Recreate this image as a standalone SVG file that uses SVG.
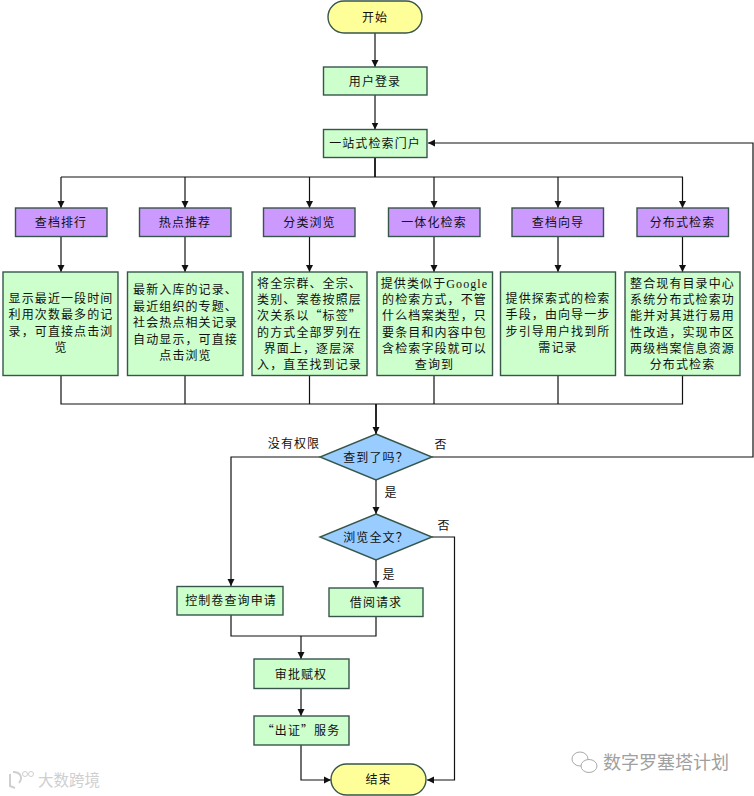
<svg xmlns="http://www.w3.org/2000/svg" width="754" height="796" viewBox="0 0 754 796">
<style>
text{font-family:"Noto Sans CJK SC","Liberation Sans",sans-serif;font-size:12px;letter-spacing:1.1px;fill:#111;text-anchor:middle}
.n{stroke:#37564a;stroke-width:1.4}
.g{fill:#CCFFCC}.p{fill:#CC99FF}.y{fill:#FFFF99}.b{fill:#99CCFF}
.c path{fill:none;stroke:#111;stroke-width:1.2}
text.w{fill:#a0a0a0;font-size:18px;letter-spacing:0}
text.w2{fill:#cfcfcf;font-size:15.5px;letter-spacing:0}
.s{font-family:"Liberation Serif",serif}
</style>
<defs>
<marker id="a" markerUnits="userSpaceOnUse" markerWidth="8" markerHeight="8" refX="7" refY="4" orient="auto"><path d="M0 0.500L7 4L0 7.500Z" fill="#111"/></marker>
</defs>
<rect width="754" height="796" fill="#fff"/>
<g class="c" id="connectors">
<path d="M375 33V67" marker-end="url(#a)"/>
<path d="M375 95V129.500" marker-end="url(#a)"/>
<path d="M375 157.500V177" style="stroke-width:1.8"/>
<path d="M61 177H683"/>
<path d="M61 177V208" marker-end="url(#a)"/>
<path d="M185 177V208" marker-end="url(#a)"/>
<path d="M309.500 177V208" marker-end="url(#a)"/>
<path d="M434 177V208" marker-end="url(#a)"/>
<path d="M558 177V208" marker-end="url(#a)"/>
<path d="M682.500 177V208" marker-end="url(#a)"/>
<path d="M61 236.500V272" marker-end="url(#a)"/>
<path d="M185 236.500V272" marker-end="url(#a)"/>
<path d="M309.500 236.500V272" marker-end="url(#a)"/>
<path d="M434 236.500V272" marker-end="url(#a)"/>
<path d="M558 236.500V272" marker-end="url(#a)"/>
<path d="M682.500 236.500V272" marker-end="url(#a)"/>
<path d="M61 375.500V404H682.500V375.500"/>
<path d="M185 375.500V404M309.500 375.500V404M434 375.500V404M558 375.500V404"/>
<path d="M376 404V434" style="stroke-width:1.8" marker-end="url(#a)"/>
<path d="M320 457H231V586" marker-end="url(#a)"/>
<path d="M432 457H753V143H428" marker-end="url(#a)"/>
<path d="M376 480V514" marker-end="url(#a)"/>
<path d="M432 537H454.500V780H427" marker-end="url(#a)"/>
<path d="M376 560V588" marker-end="url(#a)"/>
<path d="M231 615V636H376V616.500"/>
<path d="M301 636V659" marker-end="url(#a)"/>
<path d="M301 689V716" marker-end="url(#a)"/>
<path d="M301 745V780H331" marker-end="url(#a)"/>
</g>
<g id="start"><rect class="n y" x="328" y="1" width="94" height="32" rx="16"/><text x="375" y="22">开始</text></g>
<g id="login"><rect class="n g" x="323.500" y="67" width="103.500" height="28"/><text x="375" y="86">用户登录</text></g>
<g id="portal"><rect class="n g" x="323.500" y="129.500" width="103.500" height="28"/><text x="375" y="148">一站式检索门户</text></g>
<g id="rank"><rect class="n p" x="15.500" y="208" width="91.500" height="28.500"/><text x="61" y="227">查档排行</text></g>
<g id="hot"><rect class="n p" x="139.500" y="208" width="91.500" height="28.500"/><text x="185" y="227">热点推荐</text></g>
<g id="browse"><rect class="n p" x="263.500" y="208" width="91.500" height="28.500"/><text x="309.500" y="227">分类浏览</text></g>
<g id="unified"><rect class="n p" x="388.500" y="208" width="91.500" height="28.500"/><text x="434" y="227">一体化检索</text></g>
<g id="guide"><rect class="n p" x="512" y="208" width="91.500" height="28.500"/><text x="558" y="227">查档向导</text></g>
<g id="dist"><rect class="n p" x="637" y="208" width="91.500" height="28.500"/><text x="682.500" y="227">分布式检索</text></g>
<g id="rank-d"><rect class="n g" x="3" y="272" width="115" height="103.500"/>
<text><tspan x="61" y="302.500">显示最近一段时间</tspan><tspan x="61" y="319">利用次数最多的记</tspan><tspan x="61" y="335.500">录，可直接点击浏</tspan><tspan x="61" y="352">览</tspan></text></g>
<g id="hot-d"><rect class="n g" x="127.500" y="272" width="115.500" height="103.500"/>
<text><tspan x="185.500" y="294">最新入库的记录、</tspan><tspan x="185.500" y="310.500">最近组织的专题、</tspan><tspan x="185.500" y="327">社会热点相关记录</tspan><tspan x="185.500" y="343.500">自动显示，可直接</tspan><tspan x="185.500" y="360">点击浏览</tspan></text></g>
<g id="browse-d"><rect class="n g" x="252" y="272" width="115" height="103.500"/>
<text><tspan x="309.500" y="288">将全宗群、全宗、</tspan><tspan x="309.500" y="304">类别、案卷按照层</tspan><tspan x="309.500" y="320">次关系以“标签”</tspan><tspan x="309.500" y="336.500">的方式全部罗列在</tspan><tspan x="309.500" y="352.500">界面上，逐层深</tspan><tspan x="309.500" y="369">入，直至找到记录</tspan></text></g>
<g id="unified-d"><rect class="n g" x="377" y="272" width="115.500" height="103.500"/>
<text><tspan x="434.500" y="288">提供类似于<tspan class="s">Google</tspan></tspan><tspan x="434.500" y="304">的检索方式，不管</tspan><tspan x="434.500" y="320">什么档案类型，只</tspan><tspan x="434.500" y="336.500">要条目和内容中包</tspan><tspan x="434.500" y="352.500">含检索字段就可以</tspan><tspan x="434.500" y="369">查询到</tspan></text></g>
<g id="guide-d"><rect class="n g" x="500.500" y="272" width="115" height="103.500"/>
<text><tspan x="558" y="302.500">提供探索式的检索</tspan><tspan x="558" y="319">手段，由向导一步</tspan><tspan x="558" y="335.500">步引导用户找到所</tspan><tspan x="558" y="352">需记录</tspan></text></g>
<g id="dist-d"><rect class="n g" x="625" y="272" width="115" height="103.500"/>
<text><tspan x="682.500" y="288">整合现有目录中心</tspan><tspan x="682.500" y="304">系统分布式检索功</tspan><tspan x="682.500" y="320">能并对其进行易用</tspan><tspan x="682.500" y="336.500">性改造，实现市区</tspan><tspan x="682.500" y="352.500">两级档案信息资源</tspan><tspan x="682.500" y="369">分布式检索</tspan></text></g>
<g id="found"><polygon class="n b" points="376,434 432,457 376,480 320,457"/><text x="376" y="462">查到了吗？</text></g>
<g id="fulltext"><polygon class="n b" points="376,514 432,537 376,560 320,537"/><text x="376" y="542">浏览全文？</text></g>
<g id="control"><rect class="n g" x="177" y="586.500" width="106" height="28.500"/><text x="231" y="605">控制卷查询申请</text></g>
<g id="borrow"><rect class="n g" x="329" y="588" width="94" height="28.500"/><text x="376" y="607">借阅请求</text></g>
<g id="approve"><rect class="n g" x="254" y="659" width="95" height="29.500"/><text x="301" y="679">审批赋权</text></g>
<g id="cert"><rect class="n g" x="254" y="716" width="95" height="29"/><text x="301" y="735">“出证”服务</text></g>
<g id="end"><rect class="n y" x="331" y="764" width="95" height="31" rx="15.500"/><text x="378.500" y="784">结束</text></g>
<g id="labels">
<text x="294" y="448">没有权限</text>
<text x="441" y="449">否</text>
<text x="391" y="497">是</text>
<text x="444" y="530">否</text>
<text x="389" y="579">是</text>
</g>
<g id="watermarks">
<text class="w2" x="69" y="786">大数跨境</text>
<path d="M10 774v12l5 2M13 772c8 0 10 6 6 11" fill="none" stroke="#cfcfcf" stroke-width="2"/>
<circle cx="25" cy="774" r="2.500" fill="none" stroke="#cfcfcf"/><circle cx="31" cy="774" r="2.500" fill="none" stroke="#cfcfcf"/>
<text class="w" x="666" y="769">数字罗塞塔计划</text>
<ellipse cx="580" cy="759" rx="8" ry="7" fill="none" stroke="#aaa"/><ellipse cx="589" cy="766" rx="8" ry="6.500" fill="#fff" stroke="#aaa"/>
</g>
</svg>
